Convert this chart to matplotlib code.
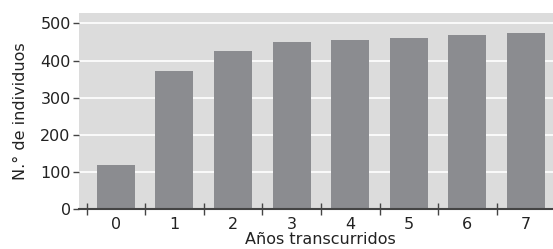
import matplotlib
matplotlib.use("Agg")
import matplotlib.pyplot as plt
import numpy as np

years = [0, 1, 2, 3, 4, 5, 6, 7]
individuos = [118, 372, 426, 450, 455, 461, 469, 474]
yticks = [0, 100, 200, 300, 400, 500]

plt.rcParams['font.family'] = ['DejaVu Sans']

fig = plt.figure(figsize=(5.53, 2.49), dpi=100)
ax = fig.add_axes([79/553, 1 - 209/249, (553 - 79)/553, (209 - 13)/249])
ax.set_facecolor('#dcdcdc')
ax.bar(years, individuos, width=0.65, color='#8b8c90', zorder=3)
ax.set_xlim(-0.628, 7.46)
ax.set_ylim(0, 528)
ax.set_yticks(yticks)
ax.set_yticklabels([str(v) for v in yticks], fontsize=11.5, color='#222222')
ax.yaxis.grid(True, color='white', linewidth=1.2, zorder=1)
ax.set_axisbelow(True)
ax.set_xticks(np.arange(-0.5, 7, 1))
ax.set_xticklabels([])
ax.set_xticks(years, minor=True)
ax.set_xticklabels([str(y) for y in years], minor=True, fontsize=11.5, color='#222222')
ax.tick_params(axis='x', which='minor', length=0, pad=6)
ax.tick_params(axis='x', which='major', direction='inout', length=8, width=1, color='#444444')
ax.tick_params(axis='y', direction='out', length=4, width=1, color='#444444', pad=2)
for s in ['top', 'right', 'left']:
    ax.spines[s].set_visible(False)
ax.spines['bottom'].set_color('#444444')
ax.spines['bottom'].set_linewidth(1.5)
ax.spines['bottom'].set_zorder(4)
ax.set_xlabel('Años transcurridos', fontsize=11.5, color='#222222')
ax.set_ylabel('N.° de individuos', fontsize=11.5, color='#222222')
ax.xaxis.set_label_coords(0.51, (209 - 232) / 196)
ax.yaxis.set_label_coords((28 - 79) / 474, 0.5)
fig.savefig('out.png', dpi=100)
